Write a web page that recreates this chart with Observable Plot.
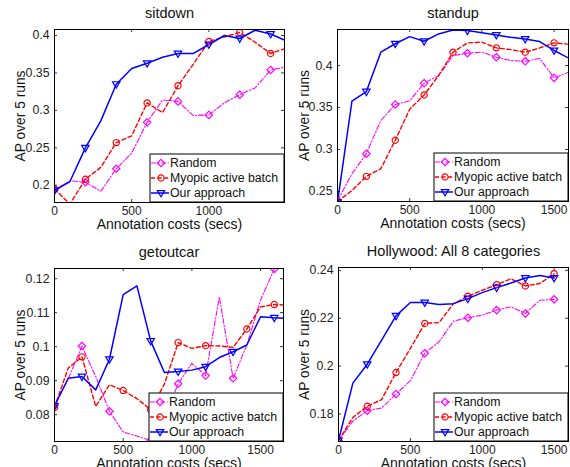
<!DOCTYPE html>
<html><head><meta charset="utf-8">
<script src="https://cdn.jsdelivr.net/npm/d3@7"></script>
<script src="https://cdn.jsdelivr.net/npm/@observablehq/plot@0.6"></script>
<style>
body{margin:0;background:#fff;}
#wrap{position:relative;width:570px;height:467px;overflow:hidden;background:#fff;}
#wrap svg{position:absolute;overflow:visible;}
</style></head><body><div id="wrap"></div>
<script>
// ---------- data ----------
const seriesNames = ["Random", "Myopic active batch", "Our approach"];

const sitdownCosts = [0,100,200,300,400,500,600,700,800,900,1000,1100,1200,1300,1400,1500];
const sitdownRandom = [0.194,0.206,0.204,0.192,0.222,0.243,0.284,0.314,0.312,0.293,0.294,0.310,0.321,0.330,0.354,0.358];
const sitdownMyopic = [0.195,0.175,0.208,0.224,0.257,0.266,0.310,0.297,0.333,0.362,0.392,0.398,0.404,0.391,0.376,0.383];
const sitdownOurs   = [0.193,0.205,0.250,0.286,0.335,0.356,0.363,0.371,0.376,0.376,0.388,0.400,0.396,0.407,0.402,0.393];
const sitdownMarksRandom = [0,200,400,600,800,1000,1200,1400];
const sitdownMarksMyopic = [0,200,400,600,800,1000,1200,1400];
const sitdownMarksOurs   = [0,200,400,600,800,1000,1200,1400];

const standupCosts = [0,100,200,300,400,500,600,700,800,900,1000,1100,1200,1300,1400,1500,1600];
const standupRandom = [0.239,0.271,0.295,0.3345,0.3536,0.358,0.379,0.388,0.412,0.4147,0.416,0.410,0.406,0.4052,0.4085,0.3854,0.392];
const standupMyopic = [0.238,0.251,0.268,0.277,0.311,0.348,0.365,0.388,0.4159,0.427,0.428,0.4211,0.419,0.4159,0.421,0.4271,0.4255];
const standupOurs   = [0.237,0.3575,0.369,0.416,0.426,0.4345,0.429,0.4377,0.4425,0.4417,0.439,0.4365,0.4337,0.4317,0.4286,0.418,0.409];
const standupMarksRandom = [0,200,400,600,900,1100,1300,1500];
const standupMarksMyopic = [0,200,400,600,800,1100,1300,1500];
const standupMarksOurs   = [0,200,400,600,900,1100,1300,1500];

const getoutcarCosts = [0,100,200,300,400,500,600,700,800,900,1000,1100,1200,1300,1400,1500,1600,1700];
const getoutcarRandom = [0.0827,0.0905,0.1002,0.0912,0.0810,0.0749,0.0737,0.0724,0.0790,0.0891,0.0951,0.0915,0.1146,0.0907,0.1005,0.1137,0.1229,0.1260];
const getoutcarMyopic = [0.0821,0.0937,0.0970,0.0824,0.0888,0.0871,0.0847,0.0815,0.0890,0.1012,0.0995,0.1003,0.1002,0.0998,0.1052,0.1117,0.1124,0.1122];
const getoutcarOurs   = [0.0826,0.0907,0.0912,0.0873,0.0963,0.1153,0.1179,0.1017,0.0924,0.0927,0.0931,0.0941,0.0968,0.0985,0.1005,0.1088,0.1085,0.1083];
const getoutcarMarksRandom = [0,200,400,700,900,1100,1300,1600];
const getoutcarMarksMyopic = [0,200,500,700,900,1100,1400,1600];
const getoutcarMarksOurs   = [0,200,400,700,900,1100,1300,1600];

const hollywoodCosts = [0,100,200,300,400,500,600,700,800,900,1000,1100,1200,1300,1400,1500];
const hollywoodRandom = [0.1689,0.1770,0.1814,0.1825,0.1883,0.1939,0.2054,0.2102,0.2188,0.2202,0.2213,0.2234,0.2248,0.2220,0.2275,0.2279];
const hollywoodMyopic = [0.1689,0.1786,0.1832,0.1860,0.1973,0.2074,0.2178,0.2182,0.2261,0.2292,0.2317,0.2340,0.2365,0.2335,0.2345,0.2386];
const hollywoodOurs   = [0.1689,0.1929,0.2008,0.2109,0.2210,0.2266,0.2266,0.2257,0.2261,0.2282,0.2307,0.2328,0.2347,0.2368,0.2379,0.2368];
const hollywoodMarks = [0,200,400,600,900,1100,1300,1500];

const titles = ["sitdown", "standup", "getoutcar", "Hollywood: All 8 categories"];
const xTickLabels = [[0,500,1000],[0,500,1000,1500],[0,500,1000,1500],[0,500,1000,1500]];
const yTickLabels = [[0.2,0.25,0.3,0.35,0.4],[0.25,0.3,0.35,0.4],[0.08,0.09,0.1,0.11,0.12],[0.18,0.2,0.22,0.24]];
const xLabel = "Annotation costs (secs)";
const yLabel = "AP over 5 runs";

// ---------- symbols ----------
const symDiamond = {draw(ctx, size){ const s = Math.sqrt(size/Math.PI);
  ctx.moveTo(0,-s); ctx.lineTo(s,0); ctx.lineTo(0,s); ctx.lineTo(-s,0); ctx.closePath(); }};
const symTriDown = {draw(ctx, size){ const s = Math.sqrt(size/Math.PI);
  ctx.moveTo(-s,-0.65*s); ctx.lineTo(s,-0.65*s); ctx.lineTo(0,1.05*s); ctx.closePath(); }};
const symCircle = {draw(ctx, size){ const s = Math.sqrt(size/Math.PI);
  ctx.moveTo(s,0); ctx.arc(0,0,s,0,2*Math.PI); }};

const styles = [
  {stroke:"#ff00ff", dash:"5,2,1.2,2", width:1.1, symbol:symDiamond, r:3.7},
  {stroke:"#ff0000", dash:"4,2.6", width:1.4, symbol:symCircle, r:3.1},
  {stroke:"#0000ff", dash:null, width:1.5, symbol:symTriDown, r:3.7}
];

const fontFamily = '"Liberation Sans", Arial, Helvetica, sans-serif';
const fmtY = d => String(+d.toFixed(4));

const panels = [
  {left:0, top:0, width:285, height:234, mL:54, mR:1, mT:29, mB:32,
   xDomain:[0,1490], yDomain:[0.177,0.408],
   costs:sitdownCosts, vals:[sitdownRandom,sitdownMyopic,sitdownOurs],
   marks:[sitdownMarksRandom,sitdownMarksMyopic,sitdownMarksOurs], ylx:20},
  {left:285, top:0, width:285, height:234, mL:52, mR:2, mT:29, mB:33,
   xDomain:[0,1600], yDomain:[0.238,0.443],
   costs:standupCosts, vals:[standupRandom,standupMyopic,standupOurs],
   marks:[standupMarksRandom,standupMarksMyopic,standupMarksOurs], ylx:19},
  {left:0, top:234, width:285, height:233, mL:54, mR:2, mT:34, mB:26,
   xDomain:[0,1667], yDomain:[0.0721,0.123],
   costs:getoutcarCosts, vals:[getoutcarRandom,getoutcarMyopic,getoutcarOurs],
   marks:[getoutcarMarksRandom,getoutcarMarksMyopic,getoutcarMarksOurs], ylx:20},
  {left:285, top:234, width:285, height:233, mL:53, mR:2, mT:33, mB:26,
   xDomain:[0,1600], yDomain:[0.1685,0.2412],
   costs:hollywoodCosts, vals:[hollywoodRandom,hollywoodMyopic,hollywoodOurs],
   marks:[hollywoodMarks,hollywoodMarks,hollywoodMarks], ylx:19}
];

const wrap = document.getElementById("wrap");

panels.forEach((p, pi) => {
  const fw = p.width - p.mL - p.mR;
  const fh = p.height - p.mT - p.mB;
  const xt = xTickLabels[pi], yt = yTickLabels[pi];
  const lineMarks = [], dotMarks = [];
  seriesNames.forEach((name, si) => {
    const st = styles[si];
    const rows = p.vals[si].map((v, i) => ({x: p.costs[i], y: v, s: name}));
    const mk = rows.filter(d => p.marks[si].includes(d.x));
    lineMarks.push(Plot.line(rows, {x:"x", y:"y", stroke:st.stroke, strokeWidth:st.width,
      strokeDasharray: st.dash, clip:true}));
    dotMarks.push(Plot.dot(mk, {x:"x", y:"y", symbol:st.symbol, r:st.r, stroke:st.stroke,
      fill:"none", strokeWidth:1.2, clip:true}));
  });
  const svg = Plot.plot({
    width:p.width, height:p.height,
    marginLeft:p.mL, marginRight:p.mR, marginTop:p.mT, marginBottom:p.mB,
    style:{fontFamily, fontSize:"12px", background:"transparent", overflow:"visible", color:"#000"},
    x:{domain:p.xDomain, label:null},
    y:{domain:p.yDomain, label:null},
    marks:[
      ...lineMarks, ...dotMarks,
      Plot.tickX(xt, {x:d=>d, insetTop:fh-3, stroke:"#000", strokeWidth:0.8}),
      Plot.tickX(xt, {x:d=>d, insetBottom:fh-3, stroke:"#000", strokeWidth:0.8}),
      Plot.tickY(yt, {y:d=>d, insetRight:fw-3, stroke:"#000", strokeWidth:0.8}),
      Plot.tickY(yt, {y:d=>d, insetLeft:fw-3, stroke:"#000", strokeWidth:0.8}),
      Plot.axisX({ticks:xt, tickSize:0, tickPadding:4, tickFormat:d=>String(d), fontSize:12, label:null, fill:"#222"}),
      Plot.axisY({ticks:yt, tickSize:0, tickPadding:5, tickFormat:fmtY, fontSize:12.3, label:null, fill:"#222"}),
      Plot.frame({stroke:"#000", strokeWidth:1}),
      Plot.text([titles[pi]], {text:d=>d, frameAnchor:"top", dy:-16, fontSize:14.5, lineAnchor:"middle", fill:"#111"}),
      Plot.text([xLabel], {text:d=>d, frameAnchor:"bottom", dy:22.5, fontSize:14, lineAnchor:"middle", fill:"#111"}),
      Plot.text([yLabel], {text:d=>d, frameAnchor:"left", dx:p.ylx - p.mL, rotate:-90, fontSize:13.8,
        textAnchor:"middle", lineAnchor:"middle", fill:"#111"})
    ]
  });
  svg.style.left = p.left + "px";
  svg.style.top = p.top + "px";
  wrap.appendChild(svg);

  // legend box at bottom-right of frame
  const R = p.width - p.mR, B = p.height - p.mB;
  const bw = 134, bh = 48;
  const g = d3.select(svg).append("g").attr("font-family", fontFamily).attr("font-size", 12.3)
    .attr("text-anchor", "start");
  g.append("rect").attr("x", R - bw).attr("y", B - bh).attr("width", bw).attr("height", bh)
    .attr("fill", "#fff").attr("stroke", "#000").attr("stroke-width", 1);
  seriesNames.forEach((name, si) => {
    const st = styles[si];
    const y = B - bh + 9 + si * 15;
    const x0 = R - bw + 1;
    g.append("line").attr("x1", x0).attr("x2", x0 + 18).attr("y1", y).attr("y2", y)
      .attr("stroke", st.stroke).attr("stroke-width", st.width)
      .attr("stroke-dasharray", st.dash);
    g.append("path").attr("transform", `translate(${x0 + 10},${y})`)
      .attr("d", d3.symbol(st.symbol, Math.PI * st.r * st.r)())
      .attr("fill", "none").attr("stroke", st.stroke).attr("stroke-width", 1.2);
    g.append("text").attr("x", x0 + 19).attr("y", y).attr("dy", "0.35em")
      .attr("text-anchor", "start").attr("fill", "#111").text(name);
  });
});
</script>
</body></html>
